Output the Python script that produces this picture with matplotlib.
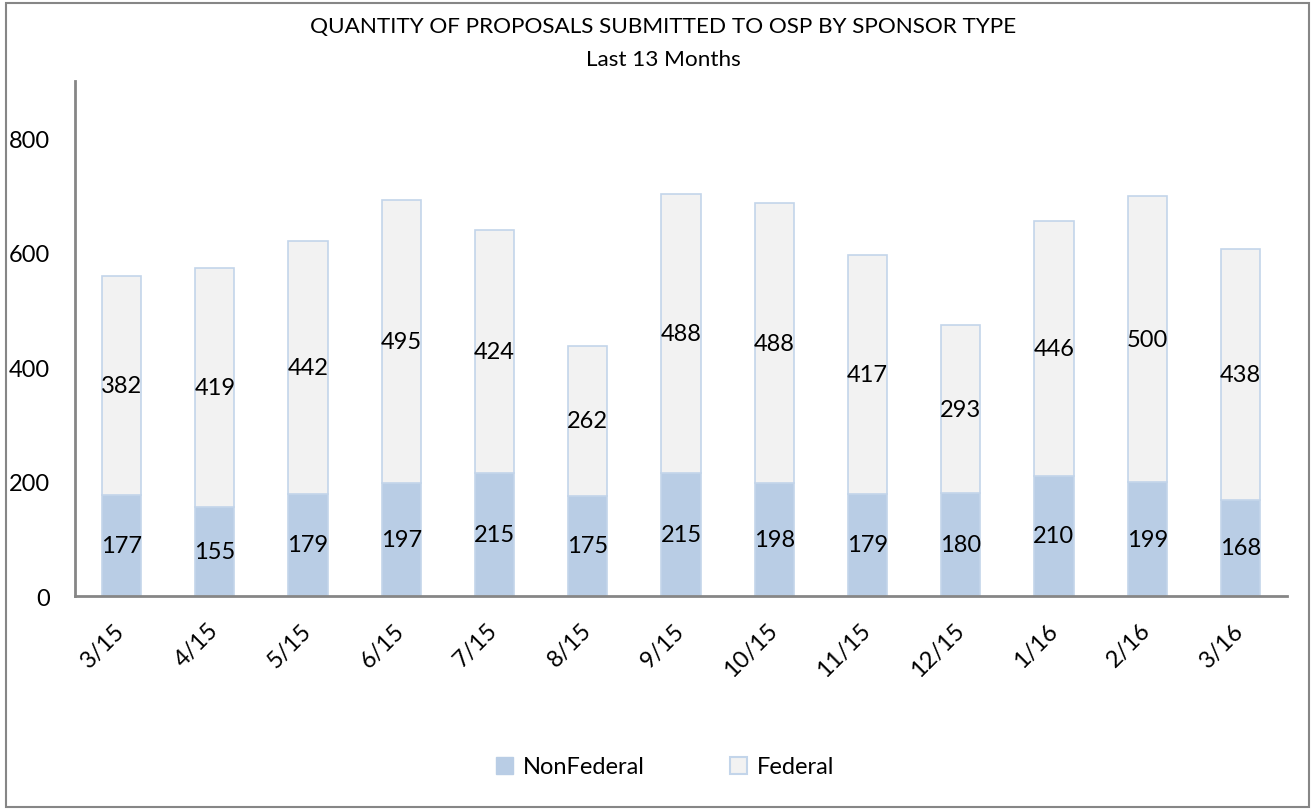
import numpy as np
import matplotlib
matplotlib.use("Agg")
from matplotlib import pyplot as plt
from matplotlib.patches import Rectangle, Patch

plt.rcParams['font.family'] = ['Lato', 'DejaVu Sans']

months = ['3/15', '4/15', '5/15', '6/15', '7/15', '8/15', '9/15',
          '10/15', '11/15', '12/15', '1/16', '2/16', '3/16']
nonfederal = [177, 155, 179, 197, 215, 175, 215, 198, 179, 180, 210, 199, 168]
federal = [382, 419, 442, 495, 424, 262, 488, 488, 417, 293, 446, 500, 438]

blue = '#B9CDE5'
grey = '#F2F2F2'
edge = '#C3D5EA'
axis_col = '#868686'
fs = 16.5

fig = plt.figure(figsize=(13.15, 8.12), dpi=100)
ax = fig.add_axes([75 / 1315, 1 - 597 / 812, (1287 - 75) / 1315, (597 - 82) / 812])

x = np.arange(len(months))
nf = np.array(nonfederal)
fd = np.array(federal)
b1 = ax.bar(x, nf, width=0.42, color=blue, edgecolor=edge, linewidth=1.2, label='NonFederal')
b2 = ax.bar(x, fd, width=0.42, bottom=nf, color=grey, edgecolor=edge, linewidth=1.2, label='Federal')

# data labels centred in each segment
for i in range(len(months)):
    ax.text(x[i], nf[i] / 2, str(nf[i]), ha='center', va='center', fontsize=fs + 0.5)
    ax.text(x[i], nf[i] + fd[i] / 2, str(fd[i]), ha='center', va='center', fontsize=fs + 0.5)

ax.set_xlim(-0.5, len(months) - 0.5)
ax.set_ylim(0, 900)
ax.set_yticks([0, 200, 400, 600, 800])
ax.tick_params(axis='y', length=0, pad=18, labelsize=fs + 0.5)
ax.set_xticks(x)
ax.set_xticklabels(months, rotation=45, ha='right', va='center', rotation_mode='anchor')
ax.tick_params(axis='x', length=0, pad=22, labelsize=fs + 0.5)

for s in ['top', 'right']:
    ax.spines[s].set_visible(False)
for s in ['left', 'bottom']:
    ax.spines[s].set_color(axis_col)
    ax.spines[s].set_linewidth(2)

fig.text(663 / 1315, 1 - 27 / 812, 'QUANTITY OF PROPOSALS SUBMITTED TO OSP BY SPONSOR TYPE',
         ha='center', va='center', fontsize=fs - 0.3)
fig.text(663 / 1315, 1 - 60 / 812, 'Last 13 Months', ha='center', va='center', fontsize=fs - 0.3)

handles = [Patch(facecolor=blue, edgecolor=blue), Patch(facecolor=grey, edgecolor=edge, linewidth=1.5)]
fig.legend(handles, ['NonFederal', 'Federal'], loc='center', bbox_to_anchor=(665 / 1315, 1 - 768 / 812),
           ncol=2, frameon=False, fontsize=fs + 0.5, handlelength=0.75, handleheight=0.75,
           handletextpad=0.4, columnspacing=3.6)

# chart frame
fig.add_artist(Rectangle((6 / 1315, 4 / 812), 1303 / 1315, 804 / 812, transform=fig.transFigure,
                         fill=False, edgecolor=axis_col, linewidth=1.5))

fig.savefig('out.png', dpi=100)
